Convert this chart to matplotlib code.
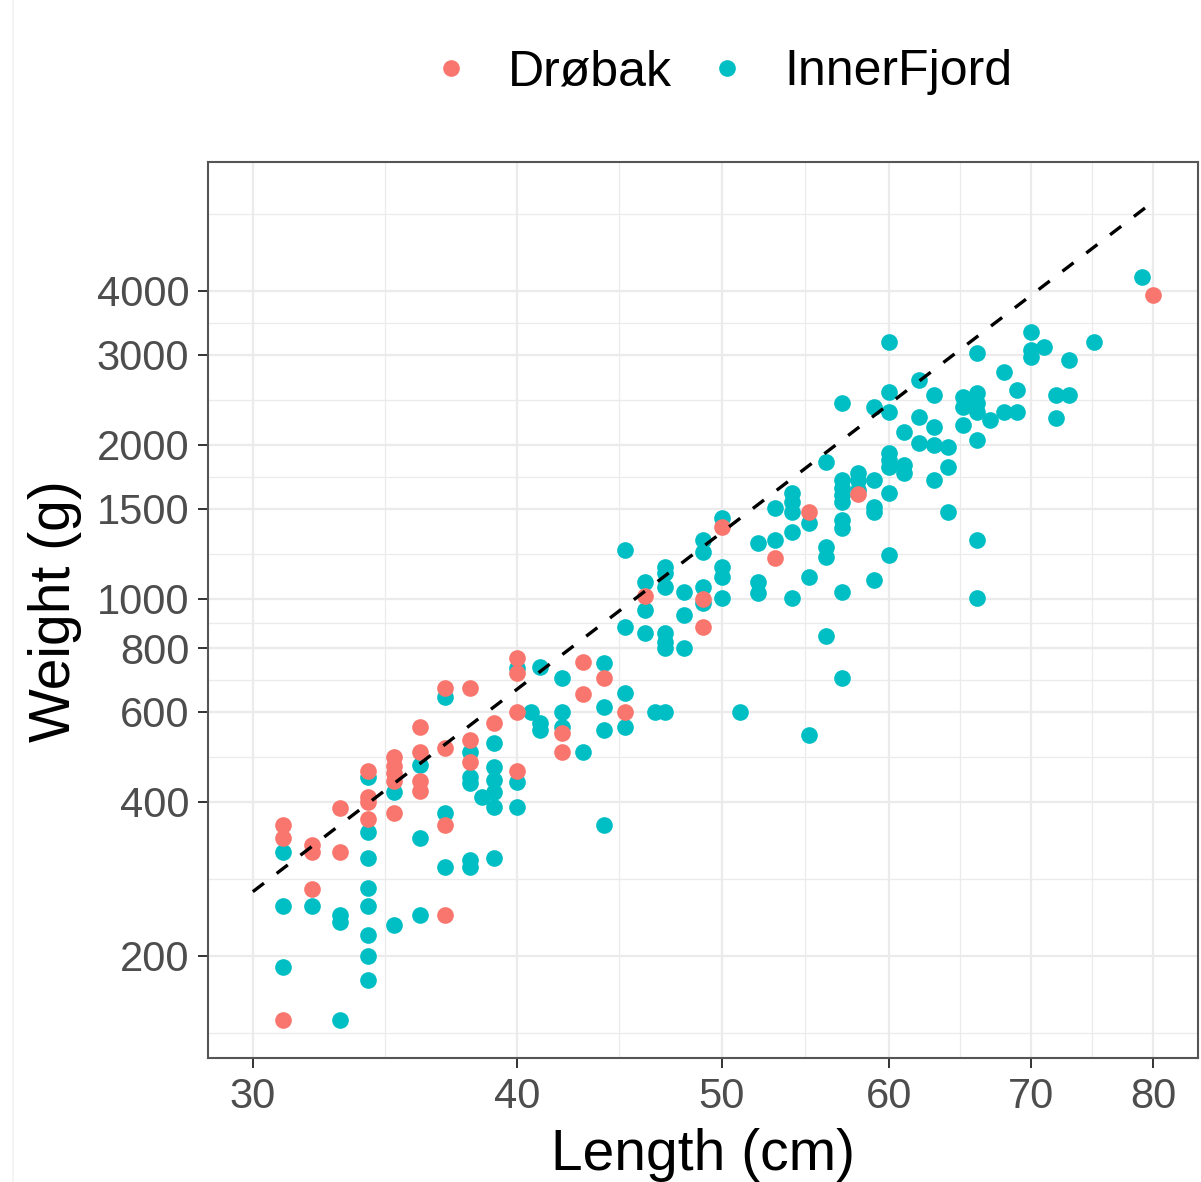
import numpy as np
import matplotlib
matplotlib.use("Agg")
import matplotlib.pyplot as plt
from matplotlib.ticker import FixedLocator, NullFormatter, FixedFormatter
from matplotlib.lines import Line2D

plt.rcParams['font.family'] = ['Liberation Sans', 'DejaVu Sans']

# ---------------- data ----------------
groups = ["Drøbak", "InnerFjord"]
colors = ["#F8766D", "#00BFC4"]

drobak_length = [31, 31, 31, 32, 32, 32, 33, 33, 34, 34, 34, 34,
                 35, 35, 35, 35, 35, 36, 36, 36, 36, 37, 37, 37, 37,
                 38, 38, 38, 39, 40, 40, 40, 40, 42, 42, 43, 43, 44,
                 45, 46, 49, 49, 50, 53, 55, 58, 80]
drobak_weight = [360, 340, 150, 330, 320, 270, 390, 320, 460, 410, 400, 370,
                 490, 470, 455, 440, 380, 560, 500, 440, 420, 670, 510, 360, 240,
                 670, 530, 480, 570, 765, 715, 600, 460, 545, 500, 750, 650, 700,
                 600, 1010, 1000, 880, 1380, 1200, 1480, 1600, 3930]

inner_length = [31, 31, 31, 32, 33, 33, 33,
                34, 34, 34, 34, 34, 34, 34, 34,
                35, 35, 36, 36, 36, 37, 37, 37,
                38, 38, 38, 38, 38, 38.5,
                39, 39, 39, 39, 39, 39,
                40, 40, 40, 40.6, 41, 41, 41,
                42, 42, 42, 43, 44, 44, 44, 44,
                45, 45, 45, 45, 46, 46, 46, 46.5,
                47, 47, 47, 47, 47, 47, 47,
                48, 48, 48, 49, 49, 49, 49,
                50, 50, 50, 50, 51, 52, 52, 52, 53, 53,
                54, 54, 54, 54, 54, 55, 55, 55,
                56, 56, 56, 56,
                57, 57, 57, 57, 57, 57, 57, 57, 57,
                58, 58, 58, 59, 59, 59, 59, 59,
                60, 60, 60, 60, 60, 60, 60, 60,
                61, 61, 61, 62, 62, 62, 63, 63, 63, 63,
                64, 64, 64, 65, 65, 65,
                66, 66, 66, 66, 66, 66, 66,
                67, 68, 68, 69, 69, 70, 70, 70, 71,
                72, 72, 73, 73, 75, 79]
inner_weight = [320, 250, 190, 250, 240, 233, 150,
                448, 350, 311, 272, 250, 220, 200, 179,
                418, 230, 473, 340, 240, 642, 381, 298,
                501, 448, 436, 308, 298, 409,
                522, 469, 442, 418, 391, 311,
                732, 438, 391, 600, 735, 571, 554,
                700, 600, 560, 501, 749, 614, 554, 361,
                1246, 880, 654, 561, 1078, 950, 857, 600,
                1154, 1123, 1054, 857, 823, 801, 600,
                1031, 929, 801, 1303, 1235, 1054, 981,
                1439, 1154, 1103, 1003, 600, 1285, 1078, 1026, 1505, 1303,
                1611, 1546, 1478, 1351, 1003, 1407, 1103, 541,
                1852, 1262, 1207, 845,
                2415, 1708, 1648, 1596, 1546, 1426, 1375, 1031, 700,
                1763, 1708, 1633, 2372, 1708, 1512, 1478, 1088,
                3180, 2537, 2320, 1929, 1869, 1811, 1611, 1218,
                2120, 1827, 1763, 2679, 2268, 2018, 2503, 2168, 2000, 1708,
                1982, 1811, 1478, 2481, 2372, 2188,
                3026, 2526, 2415, 2320, 2045, 1303, 1003,
                2237, 2777, 2320, 2560, 2320, 3326, 3067, 2972, 3109,
                2503, 2258, 2932, 2503, 3180, 4262]

line_length = [30, 80]
line_weight = [267, 5980]

x_ticks = [30, 40, 50, 60, 70, 80]
y_ticks = [200, 400, 600, 800, 1000, 1500, 2000, 3000, 4000]

# ---------------- figure ----------------
W, H = 1201, 1182
fig = plt.figure(figsize=(W / 100, H / 100), dpi=100)
fig.patch.set_facecolor("white")
L, R, T, B = 208, 1198, 162, 1058
ax = fig.add_axes([L / W, 1 - B / H, (R - L) / W, (B - T) / H])
ax.set_xscale("log")
ax.set_yscale("log")
ax.set_xlim(28.57, 84.0)
ax.set_ylim(126.2, 7152)

# minor breaks: log-midpoints between majors (ggplot style, extended by one step)
def minor_breaks(b):
    lb = np.log10(b)
    d = lb[1] - lb[0]
    lb = np.concatenate([[lb[0] - d], lb, [lb[-1] + d]])
    return list(10 ** ((lb[:-1] + lb[1:]) / 2))

ax.xaxis.set_major_locator(FixedLocator(x_ticks))
ax.xaxis.set_major_formatter(FixedFormatter([str(v) for v in x_ticks]))
ax.xaxis.set_minor_locator(FixedLocator(minor_breaks(x_ticks)))
ax.xaxis.set_minor_formatter(NullFormatter())
ax.yaxis.set_major_locator(FixedLocator(y_ticks))
ax.yaxis.set_major_formatter(FixedFormatter([str(v) for v in y_ticks]))
ax.yaxis.set_minor_locator(FixedLocator(minor_breaks(y_ticks)))
ax.yaxis.set_minor_formatter(NullFormatter())

ax.grid(which="major", color="#EBEBEB", linewidth=1.6)
ax.grid(which="minor", color="#EBEBEB", linewidth=0.9)
ax.set_axisbelow(True)
ax.tick_params(which="minor", length=0)
ax.tick_params(which="major", length=7.5, width=1.4, color="#333333",
               labelsize=30, labelcolor="#4D4D4D", pad=6)
for s in ax.spines.values():
    s.set_color("#555555")
    s.set_linewidth(1.5)

ms = 12
ax.scatter(inner_length, inner_weight, s=ms ** 2, color=colors[1], linewidths=0, zorder=3)
ax.scatter(drobak_length, drobak_weight, s=ms ** 2, color=colors[0], linewidths=0, zorder=3)
ax.plot(line_length, line_weight, color="black", linewidth=2.4,
        linestyle=(0, (4.2, 4.8)), zorder=4)

# axis titles
fig.text(703 / W, 1 - 1170 / H, "Length (cm)", fontsize=41, ha="center", va="baseline")
fig.text(55 / W, 1 - 611 / H, "Weight (g)", fontsize=41, ha="center", va="center",
         rotation=90)

# legend
handles = [Line2D([], [], linestyle="none", marker="o", markersize=ms,
                  markerfacecolor=c, markeredgewidth=0) for c in colors]
fig.legend(handles, groups, loc="center", bbox_to_anchor=(719 / W, 1 - 72 / H),
           ncol=2, frameon=False, fontsize=36, handlelength=1.0,
           handletextpad=0.64, columnspacing=0.6, borderpad=0)

# faint screenshot edge line at the left
fig.add_artist(Line2D([13 / W, 13 / W], [0, 1], color="#F2F2F2", linewidth=1.2))

fig.savefig("out.png", dpi=100)
